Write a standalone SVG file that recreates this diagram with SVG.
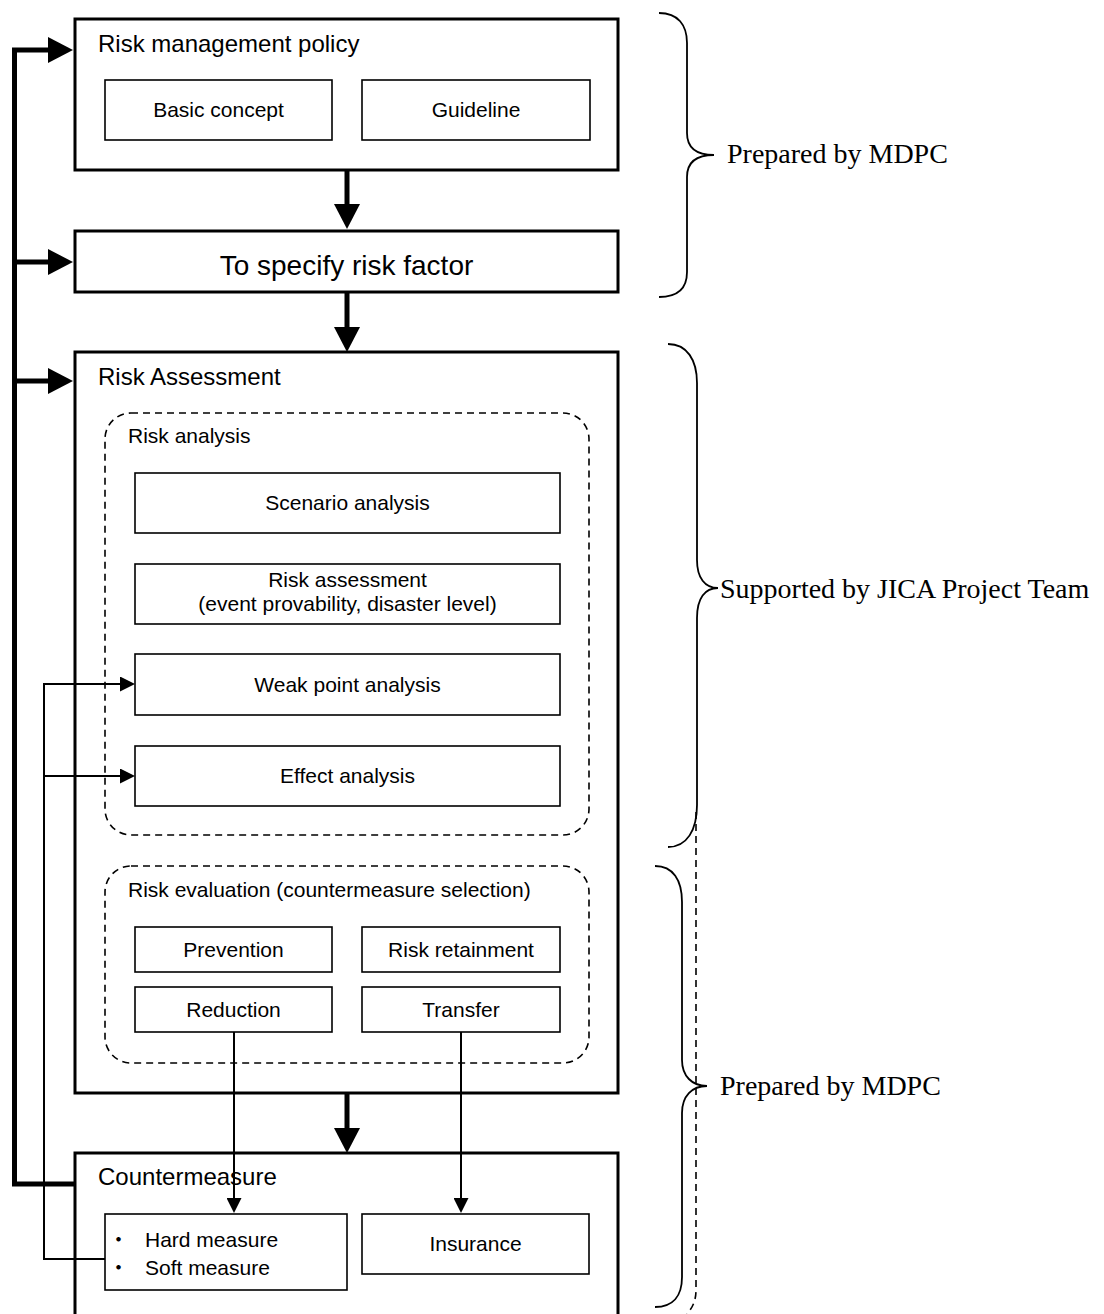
<svg xmlns="http://www.w3.org/2000/svg" width="1104" height="1314" viewBox="0 0 1104 1314">
<style>
.main{fill:#fff;stroke:#000;stroke-width:3}
.sub{fill:#fff;stroke:#000;stroke-width:1.6}
.dash{fill:none;stroke:#000;stroke-width:1.6;stroke-dasharray:7,5}
.brace{fill:none;stroke:#000;stroke-width:1.8}
.t{font-family:"Liberation Sans",Arial,sans-serif;fill:#000}
.s21{font-size:21px}
.s24{font-size:24px}
.s28{font-size:28px}
.mid{text-anchor:middle}
.serif{font-family:"Liberation Serif","Times New Roman",serif;font-size:28px;fill:#000}
.thick{fill:none;stroke:#000;stroke-width:5}
.thin{fill:none;stroke:#000;stroke-width:2}
</style>
<defs>
<marker id="bigArrow" markerUnits="userSpaceOnUse" markerWidth="25" markerHeight="26" refX="0" refY="13" orient="auto" viewBox="0 0 25 26">
<path d="M0,0 L25,13 L0,26 z" fill="#000"/>
</marker>
<marker id="smallArrow" markerUnits="userSpaceOnUse" markerWidth="15" markerHeight="15" refX="0" refY="7.5" orient="auto" viewBox="0 0 15 15">
<path d="M0,0 L15,7.5 L0,15 z" fill="#000"/>
</marker>
</defs>

<g id="policy">
<rect class="main" x="75" y="19" width="543" height="151"/>
<text class="t s24" x="98" y="52">Risk management policy</text>
</g>
<g id="basic-concept">
<rect class="sub" x="105" y="80" width="227" height="60"/>
<text class="t s21 mid" x="218.5" y="117">Basic concept</text>
</g>
<g id="guideline">
<rect class="sub" x="362" y="80" width="228" height="60"/>
<text class="t s21 mid" x="476" y="117">Guideline</text>
</g>

<g id="specify">
<rect class="main" x="75" y="231" width="543" height="61"/>
<text class="t s28 mid" x="346.5" y="275">To specify risk factor</text>
</g>

<g id="assessment">
<rect class="main" x="75" y="352" width="543" height="741"/>
<text class="t s24" x="98" y="385">Risk Assessment</text>
</g>

<g id="risk-analysis">
<rect class="dash" x="105" y="413" width="484" height="422" rx="26" ry="26"/>
<text class="t s21" x="128" y="443">Risk analysis</text>
</g>
<g id="scenario">
<rect class="sub" x="135" y="473" width="425" height="60"/>
<text class="t s21 mid" x="347.5" y="510">Scenario analysis</text>
</g>
<g id="risk-assess">
<rect class="sub" x="135" y="564" width="425" height="60"/>
<text class="t s21 mid" x="347.5" y="587">Risk assessment</text>
<text class="t s21 mid" x="347.5" y="611">(event provability, disaster level)</text>
</g>
<g id="weak-point">
<rect class="sub" x="135" y="654" width="425" height="61"/>
<text class="t s21 mid" x="347.5" y="692">Weak point analysis</text>
</g>
<g id="effect">
<rect class="sub" x="135" y="746" width="425" height="60"/>
<text class="t s21 mid" x="347.5" y="783">Effect analysis</text>
</g>

<g id="risk-evaluation">
<rect class="dash" x="105" y="866" width="484" height="197" rx="26" ry="26"/>
<text class="t s21" x="128" y="897">Risk evaluation (countermeasure selection)</text>
</g>
<g id="prevention">
<rect class="sub" x="135" y="927" width="197" height="45"/>
<text class="t s21 mid" x="233.5" y="957">Prevention</text>
</g>
<g id="retainment">
<rect class="sub" x="362" y="927" width="198" height="45"/>
<text class="t s21 mid" x="461" y="957">Risk retainment</text>
</g>
<g id="reduction">
<rect class="sub" x="135" y="987" width="197" height="45"/>
<text class="t s21 mid" x="233.5" y="1017">Reduction</text>
</g>
<g id="transfer">
<rect class="sub" x="362" y="987" width="198" height="45"/>
<text class="t s21 mid" x="461" y="1017">Transfer</text>
</g>

<g id="countermeasure">
<path class="main" d="M75,1320 V1153 H618 V1320"/>
<text class="t s24" x="98" y="1185">Countermeasure</text>
</g>
<g id="hard-soft">
<rect class="sub" x="105" y="1214" width="242" height="76"/>
<text class="t s21" x="108" y="1247" style="font-family:'Noto Sans CJK JP',sans-serif">・</text>
<text class="t s21" x="145" y="1247">Hard measure</text>
<text class="t s21" x="108" y="1275" style="font-family:'Noto Sans CJK JP',sans-serif">・</text>
<text class="t s21" x="145" y="1275">Soft measure</text>
</g>
<g id="insurance">
<rect class="sub" x="362" y="1214" width="227" height="60"/>
<text class="t s21 mid" x="475.5" y="1251">Insurance</text>
</g>

<g id="connectors">
<line class="thick" x1="347" y1="170" x2="347" y2="204" marker-end="url(#bigArrow)"/>
<line class="thick" x1="347" y1="292" x2="347" y2="327" marker-end="url(#bigArrow)"/>
<line class="thick" x1="347" y1="1093" x2="347" y2="1128" marker-end="url(#bigArrow)"/>
<path class="thick" d="M75,1184 H14.5 V50"/>
<line class="thick" x1="12" y1="50" x2="48" y2="50" marker-end="url(#bigArrow)"/>
<line class="thick" x1="14.5" y1="262" x2="48" y2="262" marker-end="url(#bigArrow)"/>
<line class="thick" x1="14.5" y1="381" x2="48" y2="381" marker-end="url(#bigArrow)"/>
<path class="thin" d="M105,1259 H44 V684 H120" marker-end="url(#smallArrow)"/>
<line class="thin" x1="44" y1="776" x2="120" y2="776" marker-end="url(#smallArrow)"/>
<line class="thin" x1="234" y1="1032" x2="234" y2="1198" marker-end="url(#smallArrow)"/>
<line class="thin" x1="461" y1="1032" x2="461" y2="1198" marker-end="url(#smallArrow)"/>
</g>

<g id="brace-mdpc-top">
<path class="brace" d="M659,13 C678,13 687,25 687,43 L687,133 C687,148 697,155 714,155 C697,155 687,162 687,177 L687,272 C687,289 677,297 659,297"/>
<text class="serif" x="727" y="163">Prepared by MDPC</text>
</g>
<g id="brace-jica">
<path class="brace" d="M668,344 C687,344 697,360 697,383 L697,560 C697,578 705,588 718,588 C705,588 697,598 697,618 L697,805 C697,830 687,847 668,847"/>
<text class="serif" x="720" y="598">Supported by JICA Project Team</text>
</g>
<g id="brace-mdpc-bottom">
<path class="brace" d="M655,866 C673,866 682,880 682,902 L682,1060 C682,1076 692,1086 707,1086 C692,1086 682,1096 682,1113 L682,1277 C682,1296 673,1307 655,1307"/>
<text class="serif" x="720" y="1095">Prepared by MDPC</text>
</g>
<g id="brace-dashed">
<path class="brace" style="stroke-dasharray:7,5;stroke-width:1.6" d="M696,812 L696,1290 C696,1300 693,1307 687,1314"/>
</g>
</svg>
